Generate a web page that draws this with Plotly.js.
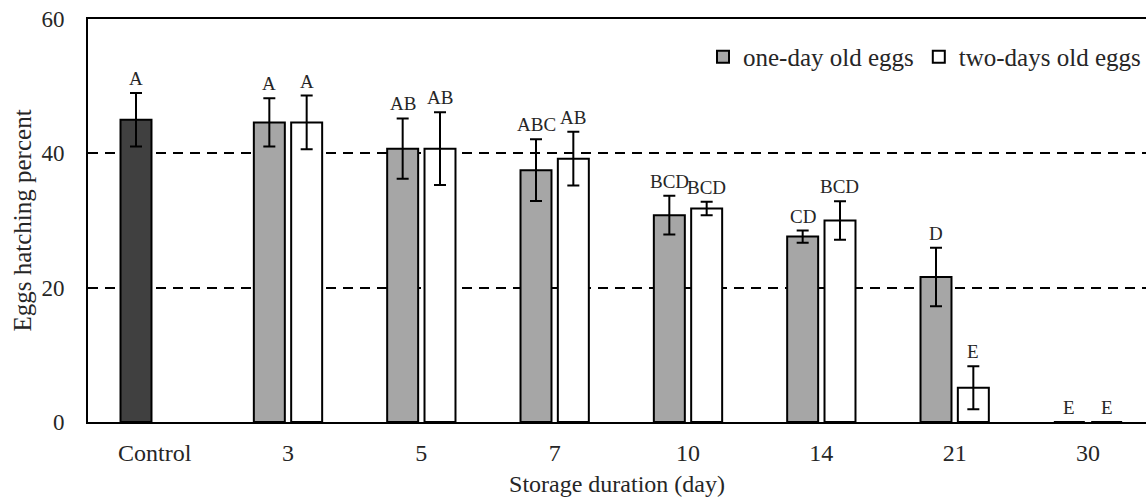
<!DOCTYPE html>
<html>
<head>
<meta charset="utf-8">
<script src="https://cdn.plot.ly/plotly-3.0.1.min.js"></script>
<style>html,body{margin:0;padding:0;background:#fff;}#chart{width:1146px;height:499px;}</style>
</head>
<body>
<div id="chart"></div>
<script>
// ---- data ----
const categories = ['Control', '3', '5', '7', '10', '14', '21', '30'];
const controlValues = [45.0, null, null, null, null, null, null, null];
const controlErr = [4.0, 0, 0, 0, 0, 0, 0, 0];
const oneDayValues = [null, 44.6, 40.7, 37.5, 30.8, 27.6, 21.6, 0];
const oneDayErr = [0, 3.6, 4.5, 4.6, 2.9, 0.9, 4.35, 0];
const twoDayValues = [null, 44.6, 40.7, 39.2, 31.8, 30.0, 5.1, 0];
const twoDayErr = [0, 4.0, 5.4, 4.0, 1.0, 2.85, 3.2, 0];
const oneDayLetters = ['A', 'A', 'AB', 'ABC', 'BCD', 'CD', 'D', 'E'];
const twoDayLetters = ['', 'A', 'AB', 'AB', 'BCD', 'BCD', 'E', 'E'];
const seriesNames = ['one-day old eggs', 'two-days old eggs'];

// ---- styling ----
const SERIF = '"Liberation Serif", "Times New Roman", serif';
const TXT = '#262626';
const BARGAP = 0.44;
const GROUPGAP = 0.17;
const xRange = [-0.5, 7.435];
const plotW = 1146 - 88;
const pxPerCat = plotW / (xRange[1] - xRange[0]);
const slotOffset = (1 - BARGAP) / 4 * pxPerCat; // half slot in px

const errStyle = {type: 'data', visible: true, color: '#000', thickness: 2, width: 6};

const traces = [
  {
    type: 'bar', x: categories, y: controlValues, offsetgroup: 'a', showlegend: false,
    marker: {color: '#404040', line: {color: '#000', width: 2}},
    error_y: Object.assign({array: controlErr}, errStyle), hoverinfo: 'skip'
  },
  {
    type: 'bar', name: seriesNames[0], x: categories, y: oneDayValues, offsetgroup: 'a',
    marker: {color: '#a6a6a6', line: {color: '#000', width: 2}},
    error_y: Object.assign({array: oneDayErr}, errStyle)
  },
  {
    type: 'bar', name: seriesNames[1], x: categories, y: twoDayValues, offsetgroup: 'b',
    marker: {color: '#ffffff', line: {color: '#000', width: 2}},
    error_y: Object.assign({array: twoDayErr}, errStyle)
  }
];

const annotations = [];
categories.forEach((c, i) => {
  const v1 = i === 0 ? controlValues[i] + controlErr[i] : oneDayValues[i] + oneDayErr[i];
  if (oneDayLetters[i]) annotations.push({
    x: i, y: v1, xref: 'x', yref: 'y', text: oneDayLetters[i], showarrow: false,
    xshift: -slotOffset, yshift: 2, yanchor: 'bottom', font: {family: SERIF, size: 19, color: TXT}
  });
  if (twoDayLetters[i]) annotations.push({
    x: i, y: twoDayValues[i] + twoDayErr[i], xref: 'x', yref: 'y', text: twoDayLetters[i], showarrow: false,
    xshift: slotOffset, yshift: 2, yanchor: 'bottom', font: {family: SERIF, size: 19, color: TXT}
  });
});

const layout = {
  width: 1146, height: 499,
  margin: {l: 88, r: 0, t: 19, b: 77, pad: 0},
  paper_bgcolor: '#fff', plot_bgcolor: '#fff',
  barmode: 'group', bargap: BARGAP, bargroupgap: GROUPGAP,
  font: {family: SERIF, color: TXT},
  xaxis: {
    type: 'category', range: xRange, showline: true, mirror: true, linecolor: '#000', linewidth: 2,
    ticks: '', showgrid: false, tickfont: {family: SERIF, size: 24, color: TXT},
    ticklabelstandoff: 8, fixedrange: true,
    title: {text: 'Storage duration (day)', font: {family: SERIF, size: 24, color: TXT}, standoff: 10}
  },
  yaxis: {
    range: [0, 60], tickvals: [0, 20, 40, 60], showline: true, linecolor: '#000', linewidth: 2,
    ticks: '', zeroline: false, showgrid: true, gridcolor: '#000', gridwidth: 2, griddash: '10px,7px',
    tickfont: {family: SERIF, size: 23, color: TXT}, ticklabelstandoff: 17, fixedrange: true,
    title: {text: 'Eggs hatching percent', font: {family: SERIF, size: 25, color: TXT}, standoff: 3}
  },
  showlegend: true,
  legend: {
    orientation: 'h', x: 1, xanchor: 'right', y: 0.906, yanchor: 'middle',
    font: {family: SERIF, size: 25, color: TXT}, bgcolor: 'rgba(0,0,0,0)', itemwidth: 30,
    traceorder: 'normal'
  },
  annotations: annotations
};

Plotly.newPlot('chart', traces, layout, {displayModeBar: false, staticPlot: true});
</script>
</body>
</html>
